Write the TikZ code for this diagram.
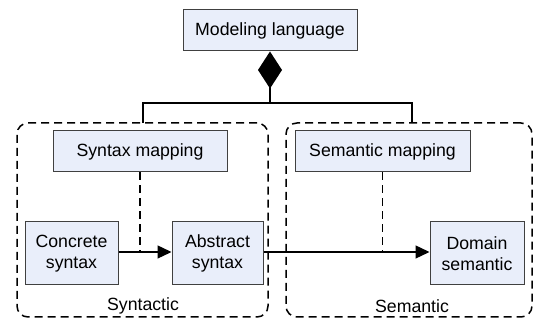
\documentclass[tikz,border=0pt]{standalone}
\usepackage{fontspec}
\setmainfont{Liberation Sans}
\usetikzlibrary{arrows.meta}
\definecolor{boxfill}{RGB}{233,238,250}
\definecolor{boxline}{RGB}{64,64,64}
\begin{document}
\begin{tikzpicture}[x=1pt,y=1pt,
  every node/.style={font=\fontsize{17.7}{21.5}\selectfont, inner sep=0pt},
  elem/.style={draw=boxline, fill=boxfill, line width=1pt, align=center},
  group/.style={draw=black, dash pattern=on 8pt off 5pt, line width=1.5pt, rounded corners=11pt},
  conn/.style={draw=black, line width=1.4pt},
  dconn/.style={draw=black, line width=1.4pt, dash pattern=on 8pt off 5pt},
  tri/.style={-{Triangle[length=14pt,width=13pt]}}
]
\useasboundingbox (0,0) rectangle (536,-320);

\node[group, minimum width=251pt, minimum height=194pt] (gsyn) at (142.5,-220) {};
\node[group, minimum width=246pt, minimum height=194pt] (gsem) at (409,-220) {};

\node[elem, minimum width=174pt, minimum height=41pt] (ml) at (270,-30.5) {Modeling language};
\node[elem, minimum width=174pt, minimum height=41pt] (sm) at (140,-151.5) {Syntax mapping};
\node[elem, minimum width=175pt, minimum height=41pt] (semm) at (382.5,-151.5) {Semantic mapping};
\node[elem, minimum width=93pt, minimum height=63pt] (conc) at (71.5,-253.5) {Concrete\\syntax};
\node[elem, minimum width=91pt, minimum height=63pt] (abs) at (217.5,-253.5) {Abstract\\syntax};
\node[elem, minimum width=94pt, minimum height=63pt] (dom) at (477,-253.5) {Domain\\semantic};

\node (lsyn) at (143,-306) {Syntactic};
\node (lsem) at (412,-306) {Semantic};

\coordinate (jl) at (143,-103);
\coordinate (jr) at (412,-103);
\coordinate (jc) at (270,-103);
\coordinate (tl) at (143,-123);
\coordinate (tr) at (412,-123);

\draw[conn] (tl) -- (jl) -- (jr) -- (tr);
\draw[conn, -{Diamond[length=37pt,width=24pt]}] (jc) -- (ml.south);

\draw[conn, tri] (conc.east |- 0,-252) -- (abs.west |- 0,-252);
\draw[conn, tri] (abs.east |- 0,-252) -- (dom.west |- 0,-252);
\draw[dconn] (sm.south) -- (sm.south |- 0,-252);
\draw[dconn] (semm.south) -- (semm.south |- 0,-252);
\end{tikzpicture}
\end{document}
